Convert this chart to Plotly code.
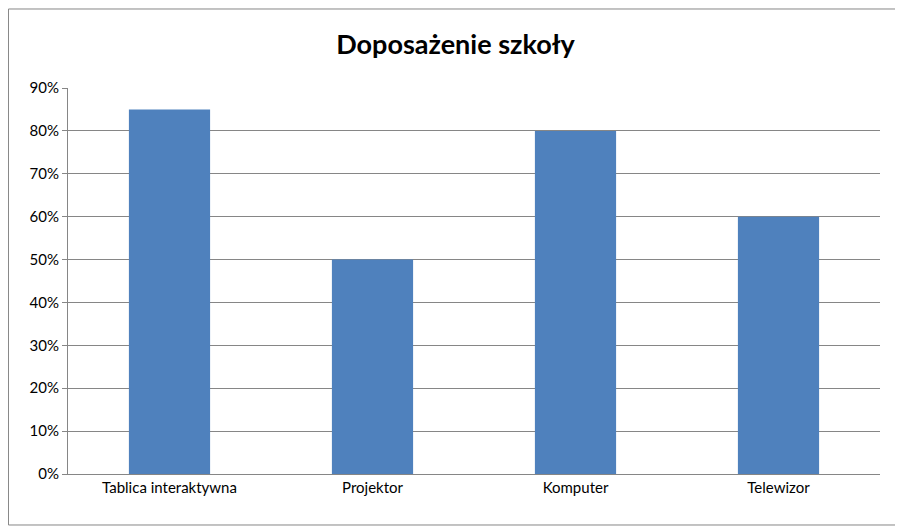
import plotly.graph_objs as go

categories = ["Tablica interaktywna", "Projektor", "Komputer", "Telewizor"]
values = [0.85, 0.50, 0.80, 0.60]
y_ticks = [0, 0.1, 0.2, 0.3, 0.4, 0.5, 0.6, 0.7, 0.8, 0.9]

fig = go.Figure()
fig.add_trace(go.Bar(
    x=categories,
    y=values,
    marker=dict(color="#4f81bd", line=dict(width=0)),
))

# the page has an 8px body margin, so the figure is a little smaller than the window
fig.update_layout(
    title=dict(text="<b>Doposażenie szkoły</b>", x=0.5, xanchor="center",
               y=0.929, yanchor="middle", font=dict(size=27, color="black")),
    width=895,
    height=518,
    font=dict(family="Lato, Liberation Sans, sans-serif", size=15, color="black"),
    plot_bgcolor="white",
    paper_bgcolor="white",
    bargap=0.6,
    showlegend=False,
    margin=dict(l=60, r=23, t=80, b=52),
    xaxis=dict(showline=True, linecolor="#868686", ticks="", tickfont=dict(size=15)),
    yaxis=dict(range=[0, 0.9], tickvals=y_ticks, tickformat=".0%",
               showgrid=True, gridcolor="#868686", gridwidth=1,
               showline=True, linecolor="#868686", ticks="outside",
               ticklen=5, tickcolor="#868686", zeroline=False),
    shapes=[dict(type="rect", xref="paper", yref="paper",
                 x0=-0.0733, x1=1.0271, y0=-0.1321, y1=1.2047,
                 line=dict(color="#868686", width=1))],
)

fig.write_html("out.html")
